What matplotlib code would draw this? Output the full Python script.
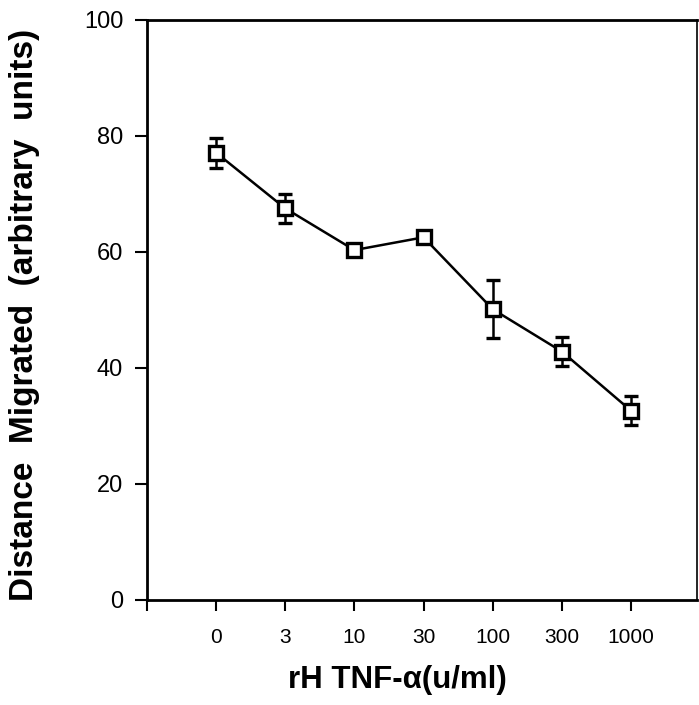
import matplotlib.pyplot as plt

plt.rcParams['font.family'] = ['Liberation Sans', 'DejaVu Sans']

# data
doses = ['0', '3', '10', '30', '100', '300', '1000']
distance = [77.1, 67.5, 60.3, 62.5, 50.1, 42.8, 32.6]
sem = [2.6, 2.5, 0, 0, 5.0, 2.5, 2.5]

x = list(range(1, len(doses) + 1))

fig = plt.figure(figsize=(6.99, 7.05), dpi=100)
ax = fig.add_axes([0.210, 0.149, 0.787, 0.823])

ax.errorbar(x, distance, yerr=sem, color='black', lw=1.8,
            marker='s', ms=9.5, mfc='white', mec='black', mew=2.4,
            ecolor='black', elinewidth=1.8, capsize=5, capthick=2.5)
# small dot inside each square
ax.plot(x, distance, linestyle='none', marker='s', ms=2.5,
        mfc='white', mec='black', mew=1)

ax.set_xlim(0, 7.95)
ax.set_ylim(0, 100)
ax.set_xticks([0] + x)
ax.set_xticklabels([''] + doses, fontsize=15)
ax.set_yticks([0, 20, 40, 60, 80, 100])
ax.tick_params(axis='y', labelsize=17, length=9, width=1.5, direction='out', pad=8)
ax.tick_params(axis='x', length=8, width=1.5, direction='out', pad=12)

for s in ax.spines.values():
    s.set_linewidth(2)
ax.spines['right'].set_linewidth(1.2)

ax.set_xlabel('rH TNF-\u03b1(u/ml)', fontsize=22.5, fontweight='bold')
ax.xaxis.set_label_coords(0.455, -0.112)
ax.set_ylabel('Distance  Migrated  (arbitrary  units)', fontsize=24,
              fontweight='bold')
ax.yaxis.set_label_coords(-0.195, 0.491)

fig.savefig('out.png', dpi=100)
